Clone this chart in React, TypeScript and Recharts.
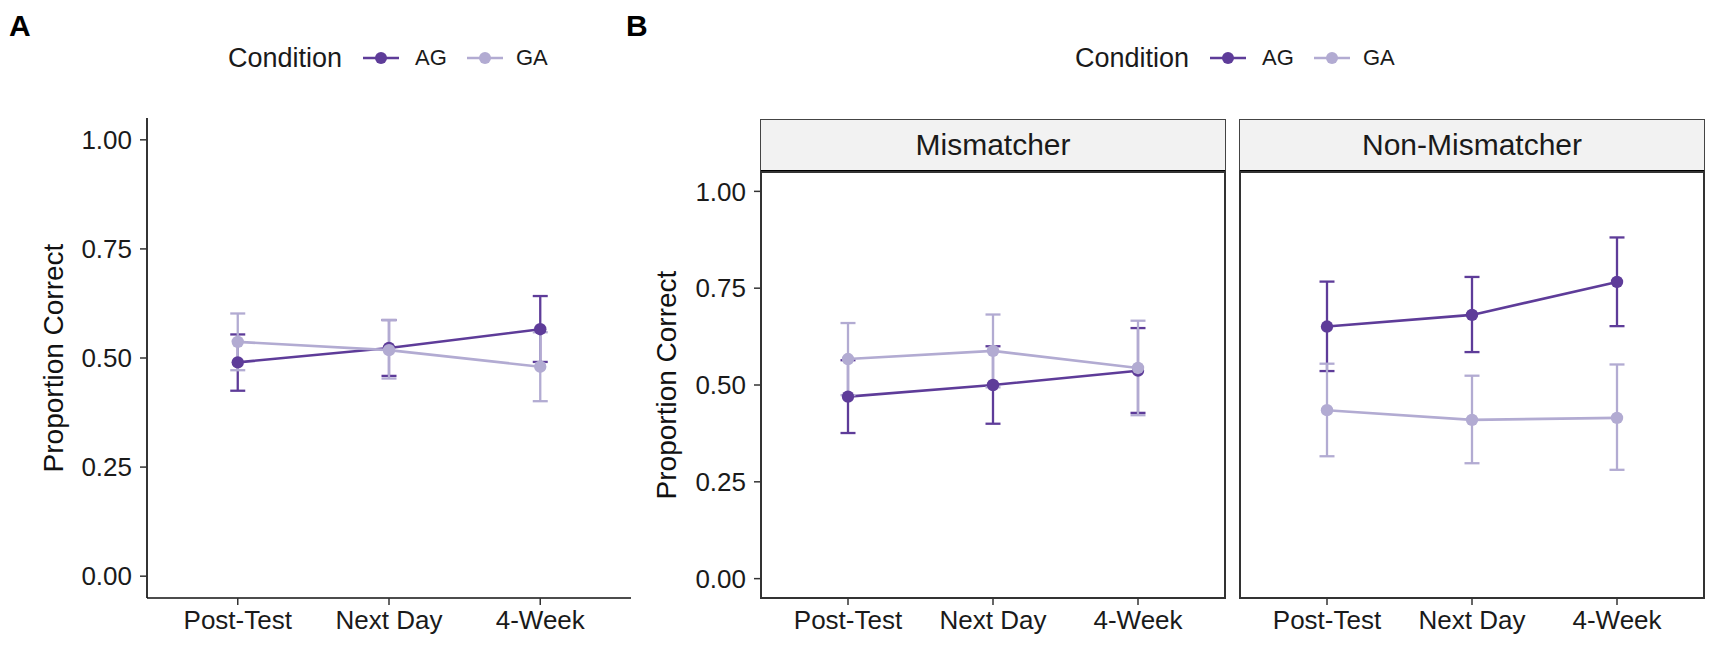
import React from "react";
import { ErrorBar, Line, LineChart, XAxis, YAxis } from "recharts";

const TIMES = ["Post-Test", "Next Day", "4-Week"];
const Y_TICKS = [0, 0.25, 0.5, 0.75, 1];
const CONDITIONS = ["AG", "GA"];

const AG_COLOR = "#5e3c99";
const GA_COLOR = "#b2abd2";
const FONT = '"Liberation Sans", Arial, Helvetica, sans-serif';

// Panel A: all participants (mean, lower, upper)
const AG_ALL = [0.49, 0.523, 0.566];
const AG_ALL_LO = [0.425, 0.459, 0.491];
const AG_ALL_HI = [0.554, 0.587, 0.642];
const GA_ALL = [0.537, 0.518, 0.48];
const GA_ALL_LO = [0.472, 0.453, 0.401];
const GA_ALL_HI = [0.602, 0.587, 0.559];

// Panel B: Mismatcher
const AG_MIS = [0.47, 0.5, 0.537];
const AG_MIS_LO = [0.376, 0.4, 0.428];
const AG_MIS_HI = [0.564, 0.6, 0.647];
const GA_MIS = [0.567, 0.588, 0.544];
const GA_MIS_LO = [0.474, 0.494, 0.422];
const GA_MIS_HI = [0.66, 0.682, 0.666];

// Panel B: Non-Mismatcher
const AG_NON = [0.651, 0.681, 0.766];
const AG_NON_LO = [0.536, 0.585, 0.652];
const AG_NON_HI = [0.767, 0.779, 0.881];
const GA_NON = [0.435, 0.41, 0.415];
const GA_NON_LO = [0.316, 0.298, 0.281];
const GA_NON_HI = [0.555, 0.524, 0.553];

function buildRows(
  ag: number[], agLo: number[], agHi: number[],
  ga: number[], gaLo: number[], gaHi: number[]
) {
  return TIMES.map((t, i) => ({
    x: i,
    time: t,
    ag: ag[i],
    agErr: [ag[i] - agLo[i], agHi[i] - ag[i]],
    ga: ga[i],
    gaErr: [ga[i] - gaLo[i], gaHi[i] - ga[i]],
  }));
}

const rowsAll = buildRows(AG_ALL, AG_ALL_LO, AG_ALL_HI, GA_ALL, GA_ALL_LO, GA_ALL_HI);
const rowsMis = buildRows(AG_MIS, AG_MIS_LO, AG_MIS_HI, GA_MIS, GA_MIS_LO, GA_MIS_HI);
const rowsNon = buildRows(AG_NON, AG_NON_LO, AG_NON_HI, GA_NON, GA_NON_LO, GA_NON_HI);

type PanelProps = {
  rows: ReturnType<typeof buildRows>;
  left: number;
  width: number;
  margin: { top: number; right: number; bottom: number; left: number };
  yWidth: number;
  showY: boolean;
  axisLines: boolean;
};

function Panel({ rows, left, width, margin, yWidth, showY, axisLines }: PanelProps) {
  const axisStroke = { stroke: "#111", strokeWidth: 1.7 };
  const tickStroke = { stroke: "#333", strokeWidth: 1.5 };
  return (
    <div style={{ position: "absolute", left, top: 0 }}>
      <LineChart width={width} height={645} data={rows} margin={margin}>
        <XAxis
          type="number"
          dataKey="x"
          domain={[-0.6, 2.6]}
          ticks={[0, 1, 2]}
          allowDataOverflow
          tickFormatter={(i: number) => TIMES[i]}
          tick={{ fontSize: 26, fill: "#1a1a1a" }}
          tickSize={7}
          tickMargin={6}
          height={45}
          axisLine={axisLines ? axisStroke : false}
          tickLine={tickStroke}
        />
        <YAxis
          type="number"
          domain={[-0.05, 1.05]}
          ticks={Y_TICKS}
          allowDataOverflow
          hide={!showY}
          tickFormatter={(v: number) => v.toFixed(2)}
          tick={{ fontSize: 26, fill: "#1a1a1a" }}
          tickSize={7}
          tickMargin={8}
          width={yWidth}
          axisLine={axisLines ? axisStroke : false}
          tickLine={tickStroke}
        />
        <Line
          dataKey="ag"
          stroke={AG_COLOR}
          strokeWidth={2.6}
          dot={{ r: 6.2, fill: AG_COLOR, stroke: AG_COLOR, strokeWidth: 0 }}
          activeDot={false}
          isAnimationActive={false}
        >
          <ErrorBar dataKey="agErr" width={7.5} stroke={AG_COLOR} strokeWidth={2.3} direction="y" isAnimationActive={false} />
        </Line>
        <Line
          dataKey="ga"
          stroke={GA_COLOR}
          strokeWidth={2.6}
          dot={{ r: 6.2, fill: GA_COLOR, stroke: GA_COLOR, strokeWidth: 0 }}
          activeDot={false}
          isAnimationActive={false}
        >
          <ErrorBar dataKey="gaErr" width={7.5} stroke={GA_COLOR} strokeWidth={2.3} direction="y" isAnimationActive={false} />
        </Line>
      </LineChart>
    </div>
  );
}

function LegendKey({ color }: { color: string }) {
  return (
    <svg width={36} height={20} style={{ display: "block" }}>
      <line x1={0} y1={10} x2={36} y2={10} stroke={color} strokeWidth={2.6} />
      <circle cx={18} cy={10} r={6} fill={color} />
    </svg>
  );
}

function Legend({ dx }: { dx: number }) {
  const label: React.CSSProperties = { position: "absolute", top: 47, fontSize: 22, lineHeight: "22px", color: "#1a1a1a", whiteSpace: "nowrap" };
  const colors = [AG_COLOR, GA_COLOR];
  const keyLeft = [363, 467];
  const textLeft = [415, 516];
  return (
    <>
      <div style={{ position: "absolute", left: 228 + dx, top: 44.5, fontSize: 27, lineHeight: "27px", color: "#1a1a1a", whiteSpace: "nowrap" }}>
        Condition
      </div>
      {CONDITIONS.map((c, i) => (
        <React.Fragment key={c}>
          <div style={{ position: "absolute", left: keyLeft[i] + dx, top: 47.5 }}>
            <LegendKey color={colors[i]} />
          </div>
          <div style={{ ...label, left: textLeft[i] + dx }}>{c}</div>
        </React.Fragment>
      ))}
    </>
  );
}

function YTitle({ cx, cy }: { cx: number; cy: number }) {
  return (
    <div
      style={{
        position: "absolute",
        left: cx - 200,
        top: cy - 15,
        width: 400,
        height: 30,
        lineHeight: "30px",
        fontSize: 28,
        textAlign: "center",
        color: "#111",
        transform: "rotate(-90deg)",
        whiteSpace: "nowrap",
      }}
    >
      Proportion Correct
    </div>
  );
}

function Strip({ left, width, label }: { left: number; width: number; label: string }) {
  return (
    <div
      style={{
        position: "absolute",
        left: left - 1,
        top: 119,
        width: width + 2,
        height: 54,
        boxSizing: "border-box",
        background: "#f2f2f2",
        borderTop: "1.5px solid #444",
        borderLeft: "1.5px solid #444",
        borderRight: "1.5px solid #444",
        borderBottom: "3px solid #000",
        display: "flex",
        alignItems: "center",
        justifyContent: "center",
        fontSize: 30,
        color: "#1a1a1a",
      }}
    >
      {label}
    </div>
  );
}

function Border({ left, width }: { left: number; width: number }) {
  return (
    <div
      style={{
        position: "absolute",
        left: left - 1,
        top: 171,
        width: width + 2,
        height: 428,
        boxSizing: "border-box",
        border: "2px solid #333",
        pointerEvents: "none",
      }}
    />
  );
}

export default function App() {
  const tag: React.CSSProperties = { position: "absolute", top: 11, fontSize: 30, lineHeight: "30px", fontWeight: 700, color: "#000" };
  return (
    <div
      style={{
        position: "absolute",
        left: 0,
        top: 0,
        width: 1713,
        height: 645,
        overflow: "hidden",
        background: "#fff",
        fontFamily: FONT,
      }}
    >
      <div style={{ ...tag, left: 9 }}>A</div>
      <div style={{ ...tag, left: 626 }}>B</div>

      <Legend dx={0} />
      <Legend dx={847} />

      <Panel
        rows={rowsAll}
        left={0}
        width={650}
        margin={{ top: 118, right: 19, bottom: 2, left: 57 }}
        yWidth={90}
        showY
        axisLines
      />
      <YTitle cx={54} cy={358} />

      <Panel
        rows={rowsMis}
        left={640}
        width={600}
        margin={{ top: 172, right: 15, bottom: 2, left: 21 }}
        yWidth={100}
        showY
        axisLines={false}
      />
      <Panel
        rows={rowsNon}
        left={1230}
        width={483}
        margin={{ top: 172, right: 9, bottom: 2, left: 10 }}
        yWidth={0}
        showY={false}
        axisLines={false}
      />
      <YTitle cx={667} cy={384.5} />

      <Strip left={761} width={464} label="Mismatcher" />
      <Strip left={1240} width={464} label="Non-Mismatcher" />
      <Border left={761} width={464} />
      <Border left={1240} width={464} />
    </div>
  );
}
